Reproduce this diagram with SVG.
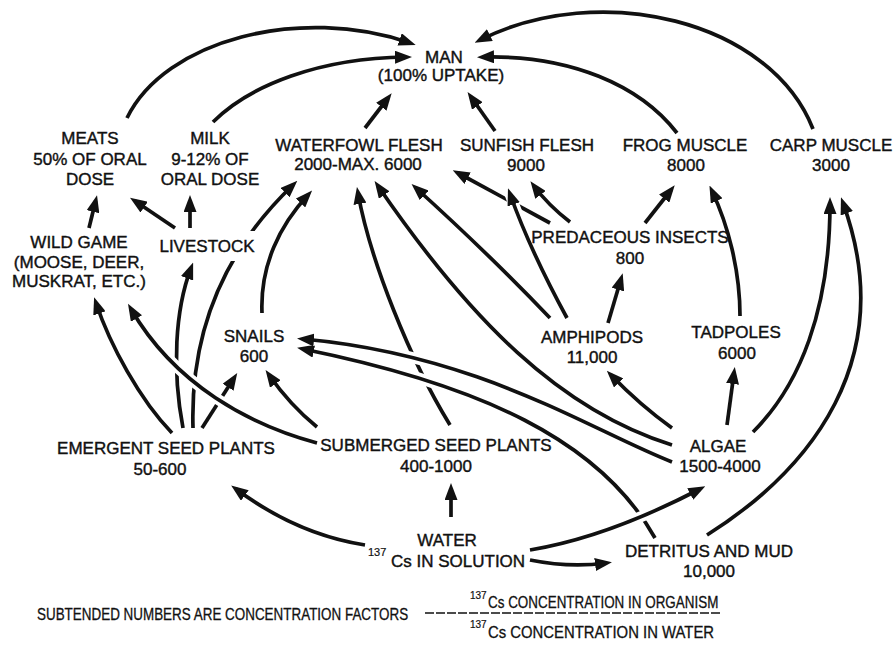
<svg xmlns="http://www.w3.org/2000/svg" width="894" height="662" viewBox="0 0 894 662">
  <style>
    .lbl { font-family: "Liberation Sans", Arial, sans-serif; font-size: 17px; fill: #111; stroke: #111; stroke-width: 0.4; text-anchor: middle; }
    .sup { font-size: 11px; stroke-width: 0.2; }
    .cap { font-family: "Liberation Sans", Arial, sans-serif; font-size: 16px; fill: #111; stroke: #111; stroke-width: 0.3; }
    .capsup { font-family: "Liberation Sans", Arial, sans-serif; font-size: 10px; fill: #111; stroke: #111; stroke-width: 0.2; }
    .ln { fill: none; stroke: #111; stroke-width: 3.7; marker-end: url(#ah); }
    .halo { fill: none; stroke: #fff; stroke-width: 11; }
    .rule { stroke: #111; stroke-width: 1.6; stroke-dasharray: 9 2; }
  </style>
  <defs>
    <marker id="ah" markerUnits="userSpaceOnUse" markerWidth="17" markerHeight="13" refX="11" refY="6.5" orient="auto" viewBox="0 0 17 13">
      <path d="M0,0 L17,6.5 L0,13 Z" fill="#111"/>
    </marker>
    <!-- gap where the emergent-plants line passes behind the LIVESTOCK label -->
    <mask id="gap-livestock" maskUnits="userSpaceOnUse" x="0" y="0" width="894" height="662">
      <rect x="0" y="0" width="894" height="662" fill="#fff"/>
      <rect x="228" y="231" width="30" height="30" fill="#000"/>
    </mask>
  </defs>
  <rect width="894" height="662" fill="#fff"/>

  <g id="connectors">
    <!-- into MAN -->
    <path class="ln" d="M127,118 C165,40 300,5 410,43"/>
    <path class="ln" d="M213,122 C250,85 320,58 406,57"/>
    <path class="ln" d="M365,128 L388,98"/>
    <path class="ln" d="M495,131 L471,97"/>
    <path class="ln" d="M677,133 C640,85 570,55 483,57"/>
    <path class="ln" d="M813,129 C770,20 600,-20 480,40"/>
    <!-- into MEATS / MILK -->
    <path class="ln" d="M89,228 L95.6,201"/>
    <path class="ln" d="M175,228 L135,201"/>
    <path class="ln" d="M190,228 L190,201"/>
    <!-- from emergent seed plants -->
    <path class="ln" d="M172,433 C140,400 110,345 96,303"/>
    <path class="ln" d="M183,428 C172,370 175,310 191,268"/>
    <path class="ln" d="M193,428 C190,330 225,250 293,185" mask="url(#gap-livestock)"/>
    <path class="ln" d="M202,428 L234,378"/>
    <!-- submerged seed plants to wild game, crossing over the emergent lines -->
    <path class="halo" d="M317,443 C250,425 175,385 131,309"/>
    <path class="ln" d="M317,443 C250,425 175,385 131,309"/>
    <path class="ln" d="M317,427 Q290,405 269,375"/>
    <!-- into WATERFOWL FLESH -->
    <path class="ln" d="M262,313 C260,265 280,225 308,195"/>
    <path class="ln" d="M450,425 C410,360 370,260 358,193"/>
    <path class="ln" d="M672,445 C560,410 470,320 378,186"/>
    <path class="ln" d="M550,318 Q490,255 416,188"/>
    <path class="ln" d="M550,223 L458,173"/>
    <!-- into SNAILS, crossing over the submerged-plants line -->
    <path class="halo" d="M655,538 C600,440 480,385 303,349"/>
    <path class="ln" d="M655,538 C600,440 480,385 303,349"/>
    <path class="halo" d="M672,462 C590,430 480,355 303,339"/>
    <path class="ln" d="M672,462 C590,430 480,355 303,339"/>
    <!-- into SUNFISH FLESH -->
    <path class="ln" d="M570,222 Q548,205 534,186"/>
    <path class="halo" d="M567,318 Q530,250 510,194"/>
    <path class="ln" d="M567,318 Q530,250 510,194"/>
    <!-- invertebrates and frogs -->
    <path class="ln" d="M672,428 Q640,405 611,375"/>
    <path class="ln" d="M608,323 L621,279"/>
    <path class="ln" d="M645,223 L671,190"/>
    <path class="ln" d="M740,316 C740,270 728,225 712,191"/>
    <path class="ln" d="M727,425 L734,373"/>
    <!-- into CARP MUSCLE -->
    <path class="ln" d="M753,432 C800,385 830,310 830,203"/>
    <path class="ln" d="M707,535 C810,470 900,360 843,203"/>
    <!-- from the water -->
    <path class="ln" d="M451,517 L451,489"/>
    <path class="ln" d="M365,545 C320,538 275,518 236,489"/>
    <path class="ln" d="M530,560 Q570,568 606,563"/>
    <path class="halo" d="M530,550 C590,540 650,515 700,489"/>
    <path class="ln" d="M530,550 C590,540 650,515 700,489"/>
  </g>

  <g id="man"><text class="lbl" x="444" y="63">MAN</text><text class="lbl" x="441" y="81">(100% UPTAKE)</text></g>
  <g id="meats"><text class="lbl" x="90" y="144">MEATS</text><text class="lbl" x="90" y="165">50% OF ORAL</text><text class="lbl" x="90" y="185">DOSE</text></g>
  <g id="milk"><text class="lbl" x="210" y="144">MILK</text><text class="lbl" x="210" y="165">9-12% OF</text><text class="lbl" x="210" y="185">ORAL DOSE</text></g>
  <g id="waterfowl"><text class="lbl" x="359" y="151">WATERFOWL FLESH</text><text class="lbl" x="358" y="170">2000-MAX. 6000</text></g>
  <g id="sunfish"><text class="lbl" x="527" y="151">SUNFISH FLESH</text><text class="lbl" x="526" y="171">9000</text></g>
  <g id="frog"><text class="lbl" x="685" y="151">FROG MUSCLE</text><text class="lbl" x="686" y="171">8000</text></g>
  <g id="carp"><text class="lbl" x="831" y="151">CARP MUSCLE</text><text class="lbl" x="831" y="171">3000</text></g>
  <g id="wild-game"><text class="lbl" x="79" y="248">WILD GAME</text><text class="lbl" x="79" y="268">(MOOSE, DEER,</text><text class="lbl" x="79" y="287">MUSKRAT, ETC.)</text></g>
  <g id="livestock"><text class="lbl" x="207" y="252">LIVESTOCK</text></g>
  <g id="predaceous-insects"><text class="lbl" x="630" y="243">PREDACEOUS INSECTS</text><text class="lbl" x="630" y="264">800</text></g>
  <g id="snails"><text class="lbl" x="254" y="342">SNAILS</text><text class="lbl" x="254" y="362">600</text></g>
  <g id="amphipods"><text class="lbl" x="592" y="343">AMPHIPODS</text><text class="lbl" x="592" y="363">11,000</text></g>
  <g id="tadpoles"><text class="lbl" x="736" y="338">TADPOLES</text><text class="lbl" x="737" y="359">6000</text></g>
  <g id="emergent-seed-plants"><text class="lbl" x="166" y="454">EMERGENT SEED PLANTS</text><text class="lbl" x="160" y="475">50-600</text></g>
  <g id="submerged-seed-plants"><text class="lbl" x="436" y="451">SUBMERGED SEED PLANTS</text><text class="lbl" x="436" y="472">400-1000</text></g>
  <g id="algae"><text class="lbl" x="718" y="452">ALGAE</text><text class="lbl" x="720" y="472">1500-4000</text></g>
  <g id="water">
    <text class="lbl" x="447" y="546">WATER</text>
    <text class="lbl sup" x="368" y="556" style="text-anchor:start">137</text>
    <text class="lbl" x="391" y="567" style="text-anchor:start">Cs IN SOLUTION</text>
  </g>
  <g id="detritus"><text class="lbl" x="709" y="557">DETRITUS AND MUD</text><text class="lbl" x="709" y="577">10,000</text></g>

  <g id="legend">
    <!-- condensed caption lettering -->
    <text class="cap" transform="translate(37,620) scale(0.84,1)">SUBTENDED NUMBERS ARE CONCENTRATION FACTORS</text>
    <line class="rule" x1="425" y1="613" x2="722" y2="613"/>
    <text class="capsup" x="470" y="599">137</text>
    <text class="cap" transform="translate(488,608) scale(0.84,1)">Cs CONCENTRATION IN ORGANISM</text>
    <text class="capsup" x="470" y="628">137</text>
    <text class="cap" transform="translate(488,638) scale(0.93,1)">Cs CONCENTRATION IN WATER</text>
  </g>
</svg>
